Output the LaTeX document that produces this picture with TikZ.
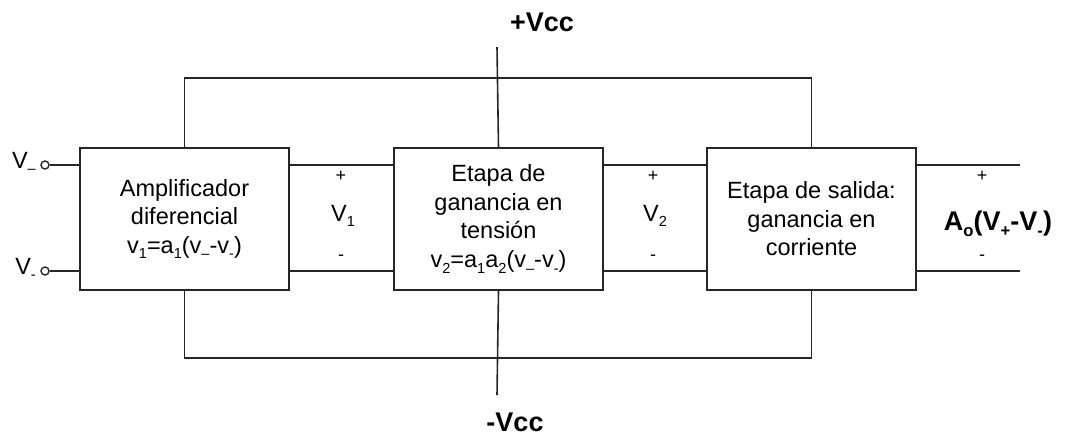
\documentclass[tikz,border=0pt]{standalone}
\usepackage{fontspec}
\setmainfont{Liberation Sans}
\newcommand\lowsub[1]{\raisebox{-0.45ex}{\fontsize{0.62\dimexpr\csname f@size\endcsname pt\relax}{1em}\selectfont #1}}
\begin{document}
\begin{tikzpicture}[x=1pt,y=-1pt,
  wire/.style={line width=1.6pt,draw=black!85},
  blk/.style={draw=black!85,line width=1.6pt,minimum width=209pt,minimum height=142pt,inner sep=0pt,align=center,
     font=\fontsize{23.5}{28.5}\selectfont},
  lbl/.style={inner sep=0pt,font=\fontsize{23.5}{28}\selectfont},
  sgn/.style={inner sep=0pt,font=\fontsize{18}{20}\selectfont},
  big/.style={inner sep=0pt,font=\fontsize{27}{30}\selectfont\bfseries},
  term/.style={circle,draw=black!85,line width=1.4pt,minimum size=8pt,inner sep=0pt,fill=white}]
\useasboundingbox (0,0) rectangle (1073,440);
% blocks
\node[blk] (b1) at (184.5,219) {Amplificador\\diferencial\\v\lowsub{1}=a\lowsub{1}(v\lowsub{--}-v\lowsub{-})};
\node[blk] (b2) at (498.5,219) {Etapa de\\ganancia en\\tensión\\v\lowsub{2}=a\lowsub{1}a\lowsub{2}(v\lowsub{--}-v\lowsub{-})};
\node[blk] (b3) at (811.5,219) {Etapa de salida:\\ganancia en\\corriente};
% levels
\coordinate (up) at (0,165);
\coordinate (dn) at (0,271);
\coordinate (rT) at (0,78);
\coordinate (rB) at (0,358);
% terminals
\node[term] (t1) at (45,165) {};
\node[term] (t2) at (45,271) {};
\node[lbl,anchor=east] (lt1) at (36,163) {V\lowsub{--}};
\node[lbl,anchor=east] (lt2) at (36,269) {V\lowsub{-}};
\coordinate (o1) at (1020,165);
\coordinate (o2) at (1020,271);
% signal wires
\draw[wire] (t1.east) -- (b1.west |- up);
\draw[wire] (t2.east) -- (b1.west |- dn);
\draw[wire] (b1.east |- up) -- (b2.west |- up);
\draw[wire] (b1.east |- dn) -- (b2.west |- dn);
\draw[wire] (b2.east |- up) -- (b3.west |- up);
\draw[wire] (b2.east |- dn) -- (b3.west |- dn);
\draw[wire] (b3.east |- up) -- (o1);
\draw[wire] (b3.east |- dn) -- (o2);
% supply rails
\coordinate (vT) at (497,47);
\coordinate (vB) at (497,395);
\draw[wire] (b1.north) -- (b1.north |- rT) -- (b3.north |- rT) -- (b3.north);
\draw[wire] (b1.south) -- (b1.south |- rB) -- (b3.south |- rB) -- (b3.south);
\draw[wire] (vT) -- (b2.north);
\draw[wire] (b2.south) -- (vB);
\node[big] (vccp) at (542,22) {+Vcc};
\node[big] (vccn) at (515,422) {-Vcc};
% voltage labels
\node[sgn] (p1) at (341,176) {+};
\node[lbl] (v1) at (343,216) {V\lowsub{1}};
\node[sgn] (m1) at (341,258) {-};
\node[sgn] (p2) at (653,176) {+};
\node[lbl] (v2) at (655,216) {V\lowsub{2}};
\node[sgn] (m2) at (653,258) {-};
\node[sgn] (p3) at (982,176) {+};
\node[big] (vo) at (998,224) {A\lowsub{o}(V\lowsub{+}-V\lowsub{-})};
\node[sgn] (m3) at (982,258) {-};
\end{tikzpicture}
\end{document}
